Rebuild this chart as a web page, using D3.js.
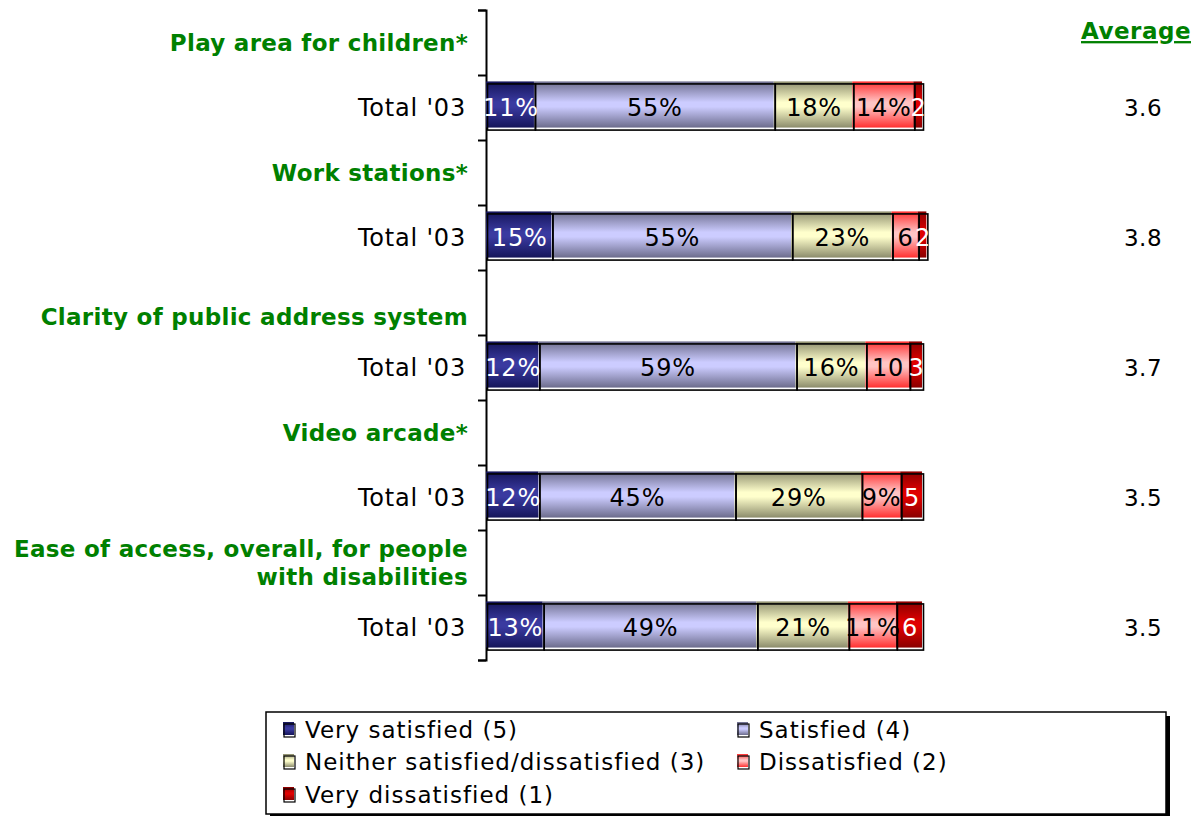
<!DOCTYPE html>
<html><head><meta charset="utf-8">
<script src="https://cdn.jsdelivr.net/npm/d3@7"></script>
<style>body{margin:0;background:#fff}svg{display:block}</style>
</head><body>
<svg id="c" width="1203" height="816"></svg>
<script>
const categories = [
  ["Play area for children*"],
  ["Work stations*"],
  ["", "Clarity of public address system"],
  ["Video arcade*"],
  ["Ease of access, overall, for people", "with disabilities"]
];
const rowLabel = "Total '03";
const seriesNames = ["Very satisfied (5)", "Satisfied (4)", "Neither satisfied/dissatisfied (3)", "Dissatisfied (2)", "Very dissatisfied (1)"];
const verySatisfied = [11, 15, 12, 12, 13];
const satisfied = [55, 55, 59, 45, 49];
const neither = [18, 23, 16, 29, 21];
const dissatisfied = [14, 6, 10, 9, 11];
const veryDissatisfied = [2, 2, 3, 5, 6];
// percent sign shown on label? (as in the picture)
const showPct = [
  [1,1,1,1,0],
  [1,1,1,0,0],
  [1,1,1,0,0],
  [1,1,1,1,0],
  [1,1,1,1,0]
];
const averages = ["3.6", "3.8", "3.7", "3.5", "3.5"];

const series = [verySatisfied, satisfied, neither, dissatisfied, veryDissatisfied];
const grads = [
  {edge:"#15155a", mid:"#3a3aa0", text:"#fff"},
  {edge:"#6c6c8c", mid:"#ccccff", text:"#000"},
  {edge:"#8c8c6c", mid:"#ffffcc", text:"#000"},
  {edge:"#ff3030", mid:"#ffc4c4", text:"#000"},
  {edge:"#8a0000", mid:"#e00000", text:"#fff"}
];
const FONT = "DejaVu Sans, Verdana, sans-serif";
const svg = d3.select("#c");
const defs = svg.append("defs");
grads.forEach((g,i)=>{
  const lg = defs.append("linearGradient").attr("id","g"+i).attr("x1",0).attr("x2",0).attr("y1",0).attr("y2",1);
  lg.append("stop").attr("offset","0%").attr("stop-color",g.edge);
  lg.append("stop").attr("offset","45%").attr("stop-color",g.mid);
  lg.append("stop").attr("offset","55%").attr("stop-color",g.mid);
  lg.append("stop").attr("offset","100%").attr("stop-color",g.edge);
});

const rows = [];
categories.forEach((c,i)=>{rows.push("h"+i); rows.push("b"+i);});
const y = d3.scaleBand().domain(rows).range([7,657]).paddingInner(0.29).paddingOuter(0.145);
const x = d3.scaleLinear().domain([0,100]).range([486,922]);

// axis
const axisScale = d3.scaleLinear().domain([0, rows.length]).range([10,660]);
svg.append("g").attr("transform","translate(486,0)")
  .call(d3.axisLeft(axisScale).ticks(rows.length).tickFormat("").tickSizeInner(8).tickSizeOuter(8))
  .call(g=>g.selectAll("path,line").attr("stroke","#000").attr("stroke-width",2));

// headings
categories.forEach((lines,i)=>{
  const cy = y("h"+i) + y.bandwidth()/2 + 3;
  const lh = 28;
  const t = svg.append("text").attr("text-anchor","end").attr("font-family",FONT)
    .attr("font-weight","bold").attr("font-size",23).attr("letter-spacing",0.3).attr("fill","#008000");
  lines.forEach((l,k)=>{
    t.append("tspan").attr("x",468).attr("y", cy + (k-(lines.length-1)/2)*lh).attr("dy","0.35em").text(l);
  });
  svg.append("text").attr("x",466).attr("y",y("b"+i)+y.bandwidth()/2+3).attr("dy","0.35em")
    .attr("text-anchor","end").attr("font-family",FONT).attr("font-size",24).attr("letter-spacing",0.8).text(rowLabel);
  svg.append("text").attr("x",1143).attr("y",y("b"+i)+y.bandwidth()/2+3).attr("dy","0.35em")
    .attr("text-anchor","middle").attr("font-family",FONT).attr("font-size",23).attr("letter-spacing",0.5).text(averages[i]);
});

// bars
categories.forEach((c,i)=>{
  let cum = 0;
  const segs = series.map((s,k)=>{const d={k, v:s[i], x0:cum}; cum+=s[i]; return d;});
  const g = svg.append("g");
  const by = y("b"+i), bh = y.bandwidth();
  g.selectAll("rect.f").data(segs).join("rect").attr("class","f")
    .attr("x",d=>x(d.x0)).attr("y",by).attr("width",d=>x(d.x0+d.v)-x(d.x0)).attr("height",bh)
    .attr("fill",d=>`url(#g${d.k})`);
  g.selectAll("rect.o").data(segs).join("rect").attr("class","o")
    .attr("x",d=>x(d.x0)+1.5).attr("y",by+2.5).attr("width",d=>x(d.x0+d.v)-x(d.x0)).attr("height",bh)
    .attr("fill","none").attr("stroke","#000").attr("stroke-width",1.6);
  g.selectAll("text").data(segs).join("text")
    .attr("x",d=>x(d.x0+d.v/2)+1).attr("y",by+bh/2+3).attr("dy","0.35em").attr("text-anchor","middle")
    .attr("font-family",FONT).attr("font-size",24).attr("letter-spacing",0.8).attr("fill",d=>grads[d.k].text)
    .text(d=>d.v + (showPct[i][d.k] ? "%" : ""));
});

// Average header
svg.append("text").attr("x",1136).attr("y",31).attr("dy","0.35em").attr("text-anchor","middle")
  .attr("font-family",FONT).attr("font-weight","bold").attr("font-size",23).attr("letter-spacing",0.5).attr("fill","#008000")
  .attr("text-decoration","underline").text("Average");

// legend
const L = {x:266, y:712, w:900, h:102};
svg.append("rect").attr("x",L.x+4).attr("y",L.y+4).attr("width",L.w).attr("height",L.h).attr("fill","#000");
svg.append("rect").attr("x",L.x).attr("y",L.y).attr("width",L.w).attr("height",L.h).attr("fill","#fff").attr("stroke","#000").attr("stroke-width",1.5);
const legPos = [[283,730],[737,730],[283,762],[737,762],[283,795]];
seriesNames.forEach((n,k)=>{
  const [lx,ly] = legPos[k];
  svg.append("rect").attr("x",lx-0).attr("y",ly-8).attr("width",11).attr("height",13).attr("fill",`url(#g${k})`);
  svg.append("rect").attr("x",lx+1).attr("y",ly-6).attr("width",11).attr("height",13).attr("fill","none").attr("stroke","#000").attr("stroke-width",1.2);
  svg.append("text").attr("x",lx+22).attr("y",ly).attr("dy","0.35em").attr("font-family",FONT).attr("font-size",23).attr("letter-spacing",1).text(n);
});
</script>
</body></html>
